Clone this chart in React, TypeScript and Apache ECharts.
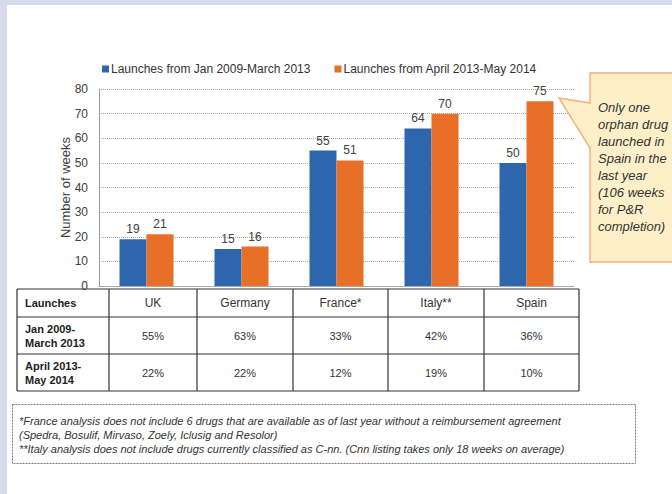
import React, { useEffect, useRef } from "react";
import * as echarts from "echarts";

const categories = ["UK", "Germany", "France*", "Italy**", "Spain"];
const seriesNames = ["Launches from Jan 2009-March 2013", "Launches from April 2013-May 2014"];
const earlyWeeks = [19, 15, 55, 64, 50];
const lateWeeks = [21, 16, 51, 70, 75];
const yMin = 0;
const yMax = 80;
const yStep = 10;
const yAxisTitle = "Number of weeks";
const tableCorner = "Launches";
const tableRowLabels = [
  ["Jan 2009-", "March 2013"],
  ["April 2013-", "May 2014"],
];
const earlyShare = ["55%", "63%", "33%", "42%", "36%"];
const lateShare = ["22%", "22%", "12%", "19%", "10%"];
const calloutLines = [
  "Only one",
  "orphan drug",
  "launched in",
  "Spain in the",
  "last year",
  "(106 weeks",
  "for P&R",
  "completion)",
];
const footnoteLines = [
  "*France analysis does not include 6 drugs that are available as of last year without a reimbursement agreement",
  "(Spedra, Bosulif, Mirvaso, Zoely, Iclusig and Resolor)",
  "**Italy analysis does not include drugs currently classified as C-nn. (Cnn listing takes only 18 weeks on average)",
];

const FONT = "'Liberation Sans', Arial, Helvetica, sans-serif";
const BLUE = "#2e66ae";
const ORANGE = "#e76f28";

export default function App() {
  const ref = useRef<HTMLDivElement>(null);

  useEffect(() => {
    if (!ref.current) return;
    const chart = echarts.init(ref.current, null, { renderer: "svg" });

    const graphics: any[] = [];
    // white panel
    graphics.push({
      type: "rect",
      z: -10,
      silent: true,
      shape: { x: 7, y: 5, width: 672, height: 494 },
      style: { fill: "#ffffff" },
    });

    // table
    const colX = [17, 109, 197, 293, 388, 484, 579];
    const rowY = [289, 317, 354, 391];
    const lineStyle = { stroke: "#333333", lineWidth: 1.2 };
    rowY.forEach((y) =>
      graphics.push({ type: "line", z: 50, shape: { x1: colX[0], y1: y, x2: colX[colX.length - 1], y2: y }, style: lineStyle })
    );
    colX.forEach((x) =>
      graphics.push({ type: "line", z: 50, shape: { x1: x, y1: rowY[0], x2: x, y2: rowY[rowY.length - 1] }, style: lineStyle })
    );
    graphics.push({
      type: "text",
      z: 50,
      style: {
        text: tableCorner,
        x: 25,
        y: (rowY[0] + rowY[1]) / 2,
        textAlign: "left",
        textVerticalAlign: "middle",
        fontFamily: FONT,
        fontSize: 11,
        fontWeight: "bold",
        fill: "#222222",
      },
    });
    categories.forEach((c, i) => {
      const cx = (colX[i + 1] + colX[i + 2]) / 2;
      graphics.push({
        type: "text",
        z: 50,
        style: {
          text: c,
          x: cx,
          y: (rowY[0] + rowY[1]) / 2,
          textAlign: "center",
          textVerticalAlign: "middle",
          fontFamily: FONT,
          fontSize: 12,
          fill: "#333333",
        },
      });
      [earlyShare, lateShare].forEach((arr, r) => {
        graphics.push({
          type: "text",
          z: 50,
          style: {
            text: arr[i],
            x: cx,
            y: (rowY[r + 1] + rowY[r + 2]) / 2,
            textAlign: "center",
            textVerticalAlign: "middle",
            fontFamily: FONT,
            fontSize: 11,
            fill: "#333333",
          },
        });
      });
    });
    tableRowLabels.forEach((lines, r) => {
      const mid = (rowY[r + 1] + rowY[r + 2]) / 2;
      lines.forEach((ln, k) => {
        graphics.push({
          type: "text",
          z: 50,
          style: {
            text: ln,
            x: 25,
            y: mid + (k - (lines.length - 1) / 2) * 14,
            textAlign: "left",
            textVerticalAlign: "middle",
            fontFamily: FONT,
            fontSize: 11,
            fontWeight: "bold",
            fill: "#222222",
          },
        });
      });
    });

    // callout
    graphics.push({
      type: "polygon",
      z: 60,
      shape: {
        points: [
          [590, 73],
          [690, 73],
          [690, 262],
          [590, 262],
          [590, 148],
          [559, 98],
          [590, 103],
        ],
      },
      style: { fill: "#fdf0c9", stroke: "#f4b183", lineWidth: 1.5 },
    });
    calloutLines.forEach((ln, k) => {
      graphics.push({
        type: "text",
        z: 61,
        style: {
          text: ln,
          x: 598,
          y: 107 + k * 17.1,
          textAlign: "left",
          textVerticalAlign: "middle",
          fontFamily: FONT,
          fontSize: 13,
          fontStyle: "italic",
          fill: "#333333",
        },
      });
    });

    // footnote box
    graphics.push({
      type: "rect",
      z: 50,
      shape: { x: 12.5, y: 404.5, width: 623, height: 59 },
      style: { fill: "none", stroke: "#777777", lineWidth: 1, lineDash: [2, 1] },
    });
    footnoteLines.forEach((ln, k) => {
      graphics.push({
        type: "text",
        z: 51,
        style: {
          text: ln,
          x: 19,
          y: 421 + k * 14,
          textAlign: "left",
          textVerticalAlign: "middle",
          fontFamily: FONT,
          fontSize: 11,
          fontStyle: "italic",
          fill: "#333333",
        },
      });
    });

    const labelStyle = {
      show: true,
      position: "top" as const,
      distance: 4,
      color: "#404040",
      fontSize: 12,
      fontFamily: FONT,
    };

    chart.setOption({
      animation: false,
      backgroundColor: "#d6dcee",
      textStyle: { fontFamily: FONT },
      legend: {
        data: seriesNames,
        left: 97,
        top: 58,
        icon: "rect",
        itemWidth: 7,
        itemHeight: 7,
        itemGap: 24,
        textStyle: { fontSize: 12, color: "#333333", fontFamily: FONT, padding: [0, 0, 0, -3] },
      },
      grid: { left: 99, right: 98, top: 89, bottom: 208, containLabel: false },
      xAxis: {
        type: "category",
        data: categories,
        axisLabel: { show: false },
        axisTick: { show: false },
        axisLine: { show: true, lineStyle: { color: "#aaaaaa", width: 1 } },
      },
      yAxis: {
        type: "value",
        min: yMin,
        max: yMax,
        interval: yStep,
        name: yAxisTitle,
        nameLocation: "middle",
        nameGap: 27,
        nameMoveOverlap: false,
        nameTextStyle: { fontSize: 13, color: "#404040", fontFamily: FONT },
        axisLine: { show: true, lineStyle: { color: "#999999", width: 1 } },
        axisTick: { show: false },
        axisLabel: { fontSize: 12, color: "#404040", margin: 11, fontFamily: FONT },
        splitLine: { show: true, lineStyle: { color: "#a8a8a8", type: [1, 1], width: 1 } },
      },
      series: [
        {
          name: seriesNames[0],
          type: "bar",
          data: earlyWeeks,
          barWidth: 27,
          barGap: "0%",
          itemStyle: { color: BLUE },
          label: labelStyle,
        },
        {
          name: seriesNames[1],
          type: "bar",
          data: lateWeeks,
          barWidth: 27,
          barGap: "0%",
          itemStyle: { color: ORANGE },
          label: labelStyle,
        },
      ],
      graphic: graphics,
    });

    return () => chart.dispose();
  }, []);

  return (
    <div
      ref={ref}
      style={{ position: "absolute", left: 0, top: 0, width: 672, height: 494 }}
    />
  );
}
